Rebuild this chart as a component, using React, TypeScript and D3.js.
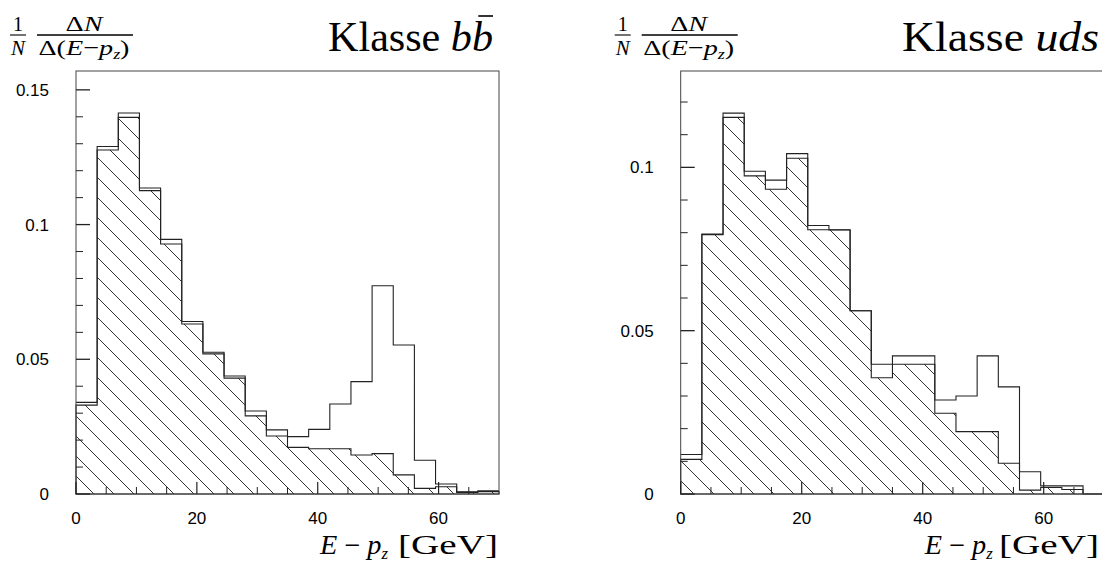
import React, { useRef, useEffect } from "react";
import { select, scaleLinear, area, line, curveStepAfter } from "d3";

// Bin-Grenzen in GeV (20 Bins zu je 3.5 GeV)
const binEdges = [0, 3.5, 7, 10.5, 14, 17.5, 21, 24.5, 28, 31.5, 35, 38.5, 42, 45.5, 49, 52.5, 56, 59.5, 63, 66.5, 70];

// Klasse b bbar
const bbTotal = [0.034, 0.129, 0.1414, 0.1136, 0.0945, 0.064, 0.0526, 0.0438, 0.0308, 0.0238, 0.0213, 0.024, 0.0334, 0.0417, 0.0773, 0.0553, 0.0125, 0.0037, 0.0008, 0.0012];
const bbHatched = [0.033, 0.1277, 0.1398, 0.1126, 0.0928, 0.0631, 0.052, 0.043, 0.029, 0.0215, 0.0173, 0.0168, 0.0168, 0.0145, 0.015, 0.0071, 0.0021, 0.0027, 0.0006, 0.0009];

// Klasse uds
const udsTotal = [0.0121, 0.0796, 0.1166, 0.0988, 0.0961, 0.1042, 0.0822, 0.0809, 0.0561, 0.0397, 0.0423, 0.0423, 0.0288, 0.03, 0.0423, 0.0328, 0.0068, 0.0025, 0.0025, 0];
const udsHatched = [0.0106, 0.0794, 0.1153, 0.0974, 0.0933, 0.1028, 0.0809, 0.0808, 0.0561, 0.0356, 0.0397, 0.0397, 0.0247, 0.0191, 0.0191, 0.0094, 0.0012, 0.002, 0.0014, 0];

const xMajorTicks = [0, 20, 40, 60];
const xMinorTicks = [5, 10, 15, 25, 30, 35, 45, 50, 55, 65];
const bbYMajor = [0, 0.05, 0.1, 0.15];
const bbYMinor = [0.01, 0.02, 0.03, 0.04, 0.06, 0.07, 0.08, 0.09, 0.11, 0.12, 0.13, 0.14];
const udsYMajor = [0, 0.05, 0.1];
const udsYMinor = [0.01, 0.02, 0.03, 0.04, 0.06, 0.07, 0.08, 0.09, 0.11, 0.12];

const panels = [
  { id: "bb", total: bbTotal, hatched: bbHatched, yMax: 0.157, yMajor: bbYMajor, yMinor: bbYMinor, left: 76, right: 499, titleEnd: 493, titleWidth: 165, klasse: "bb", overline: true },
  { id: "uds", total: udsTotal, hatched: udsHatched, yMax: 0.1295, yMajor: udsYMajor, yMinor: udsYMinor, left: 680.7, right: 1104.2, titleEnd: 1099, titleWidth: 197, klasse: "uds", overline: false },
];

const TOP = 71;
const BOTTOM = 494;
const SERIF = "'Liberation Serif', 'DejaVu Serif', serif";
const SANS = "'Liberation Sans', Arial, sans-serif";

function App() {
  const svgRef = useRef<SVGSVGElement>(null);

  useEffect(() => {
    const svg = select(svgRef.current);
    svg.selectAll("*").remove();

    // Schraffur
    const defs = svg.append("defs");
    defs.append("pattern")
      .attr("id", "hatch")
      .attr("patternUnits", "userSpaceOnUse")
      .attr("width", 20)
      .attr("height", 20)
      .append("path")
      .attr("d", "M0,0 L20,20 M-10,10 L10,30 M10,-10 L30,10")
      .attr("stroke", "#000")
      .attr("stroke-width", 0.8);

    panels.forEach((p) => {
      const xScale = scaleLinear().domain([0, 70]).range([p.left, p.right]);
      const yScale = scaleLinear().domain([0, p.yMax]).range([BOTTOM, TOP]);
      const g = svg.append("g").attr("class", "panel-" + p.id);
      const ox = p.left - 76;

      const pts = (vals: number[]) => binEdges.map((e, i) => [e, vals[Math.min(i, vals.length - 1)]]);

      const hatchArea = area<number[]>()
        .x((d) => xScale(d[0]))
        .y0(yScale(0))
        .y1((d) => yScale(d[1]))
        .curve(curveStepAfter);

      const stepLine = line<number[]>()
        .x((d) => xScale(d[0]))
        .y((d) => yScale(d[1]))
        .curve(curveStepAfter);

      g.append("path")
        .attr("d", hatchArea(pts(p.hatched)))
        .attr("fill", "url(#hatch)")
        .attr("stroke", "#222")
        .attr("stroke-width", 1.1);

      g.append("path")
        .attr("d", stepLine(pts(p.total)))
        .attr("fill", "none")
        .attr("stroke", "#222")
        .attr("stroke-width", 1.1);

      //Rahmen
      g.append("rect")
        .attr("x", p.left)
        .attr("y", TOP)
        .attr("width", p.right - p.left)
        .attr("height", BOTTOM - TOP)
        .attr("fill", "none")
        .attr("stroke", "#444")
        .attr("stroke-width", 1);

      // X-Ticks
      g.selectAll(".xmaj")
        .data(xMajorTicks)
        .join("line")
        .attr("x1", (d) => xScale(d)).attr("x2", (d) => xScale(d))
        .attr("y1", BOTTOM).attr("y2", BOTTOM - 12)
        .attr("stroke", "#222").attr("stroke-width", 1.2);
      g.selectAll(".xmin")
        .data(xMinorTicks)
        .join("line")
        .attr("x1", (d) => xScale(d)).attr("x2", (d) => xScale(d))
        .attr("y1", BOTTOM).attr("y2", BOTTOM - 7)
        .attr("stroke", "#222").attr("stroke-width", 1);
      g.selectAll(".xlab")
        .data(xMajorTicks)
        .join("text")
        .attr("x", (d) => xScale(d))
        .attr("y", 524)
        .attr("text-anchor", "middle")
        .attr("font-family", SANS)
        .attr("font-size", 17)
        .text((d) => String(d));

      // Y-Ticks
      g.selectAll(".ymaj")
        .data(p.yMajor)
        .join("line")
        .attr("x1", p.left).attr("x2", p.left + 14)
        .attr("y1", (d) => yScale(d)).attr("y2", (d) => yScale(d))
        .attr("stroke", "#222").attr("stroke-width", 1.3);
      g.selectAll(".ymin")
        .data(p.yMinor)
        .join("line")
        .attr("x1", p.left).attr("x2", p.left + 7)
        .attr("y1", (d) => yScale(d)).attr("y2", (d) => yScale(d))
        .attr("stroke", "#222").attr("stroke-width", 1);
      g.selectAll(".ylab")
        .data(p.yMajor)
        .join("text")
        .attr("x", p.left - 27)
        .attr("y", (d) => yScale(d) + 6)
        .attr("text-anchor", "end")
        .attr("font-family", SANS)
        .attr("font-size", 17)
        .text((d) => String(d));

      // Titel
      const title = g.append("text")
        .attr("x", p.titleEnd)
        .attr("y", 51)
        .attr("text-anchor", "end")
        .attr("font-family", SERIF)
        .attr("font-size", 42)
        .attr("textLength", p.titleWidth)
        .attr("lengthAdjust", "spacingAndGlyphs");
      title.append("tspan").text("Klasse ");
      title.append("tspan").attr("font-style", "italic").text(p.klasse);
      if (p.overline) {
        const node = title.node() as SVGTextElement;
        let x1 = p.titleEnd - 15, x2 = p.titleEnd;
        try {
          const ext = node.getExtentOfChar(node.getNumberOfChars() - 1);
          x1 = ext.x + ext.width * 0.3;
          x2 = ext.x + ext.width;
        } catch (e) {}
        g.append("line")
          .attr("x1", x1).attr("x2", x2)
          .attr("y1", 16).attr("y2", 16)
          .attr("stroke", "#000").attr("stroke-width", 1.6);
      }

      // Y-Achsen-Beschriftung 1/N dN/d(E-pz)
      g.append("text")
        .attr("x", ox + 18).attr("y", 31)
        .attr("text-anchor", "middle")
        .attr("font-family", SERIF).attr("font-size", 20)
        .text("1");
      g.append("line")
        .attr("x1", ox + 10).attr("x2", ox + 26)
        .attr("y1", 35).attr("y2", 35)
        .attr("stroke", "#000").attr("stroke-width", 1.1);
      g.append("text")
        .attr("x", ox + 18).attr("y", 55)
        .attr("text-anchor", "middle")
        .attr("font-family", SERIF).attr("font-size", 21)
        .attr("font-style", "italic")
        .text("N");
      const num = g.append("text")
        .attr("x", ox + 84).attr("y", 31)
        .attr("text-anchor", "middle")
        .attr("font-family", SERIF).attr("font-size", 21)
        .attr("textLength", 37)
        .attr("lengthAdjust", "spacingAndGlyphs");
      num.append("tspan").text("Δ");
      num.append("tspan").attr("font-style", "italic").text("N");
      g.append("line")
        .attr("x1", ox + 37).attr("x2", ox + 133)
        .attr("y1", 35).attr("y2", 35)
        .attr("stroke", "#000").attr("stroke-width", 1.3);
      const den = g.append("text")
        .attr("x", ox + 84).attr("y", 55)
        .attr("text-anchor", "middle")
        .attr("font-family", SERIF).attr("font-size", 22)
        .attr("textLength", 91)
        .attr("lengthAdjust", "spacingAndGlyphs");
      den.append("tspan").text("Δ(");
      den.append("tspan").attr("font-style", "italic").text("E");
      den.append("tspan").text("−");
      den.append("tspan").attr("font-style", "italic").text("p");
      den.append("tspan").attr("font-style", "italic").attr("font-size", 14).attr("dy", 4).text("z");
      den.append("tspan").attr("dy", -4).text(")");

      // X-Achsen-Beschriftung
      const xl = g.append("text")
        .attr("x", ox + 320)
        .attr("y", 554)
        .attr("font-family", SERIF).attr("font-size", 27)
        .attr("textLength", 68)
        .attr("lengthAdjust", "spacingAndGlyphs");
      xl.append("tspan").attr("font-style", "italic").text("E");
      xl.append("tspan").text(" − ");
      xl.append("tspan").attr("font-style", "italic").text("p");
      xl.append("tspan").attr("font-style", "italic").attr("font-size", 16).attr("dy", 5).text("z");
      g.append("text")
        .attr("x", Math.min(ox + 498, 1099))
        .attr("y", 554)
        .attr("text-anchor", "end")
        .attr("font-family", SERIF).attr("font-size", 27)
        .attr("textLength", 100)
        .attr("lengthAdjust", "spacingAndGlyphs")
        .text("[GeV]");
    });
  }, []);

  return (
    <div style={{ position: "absolute", left: 0, top: 0 }}>
      <svg ref={svgRef} width={1102} height={570} style={{ display: "block", background: "#fff" }} />
    </div>
  );
}

export default App;
